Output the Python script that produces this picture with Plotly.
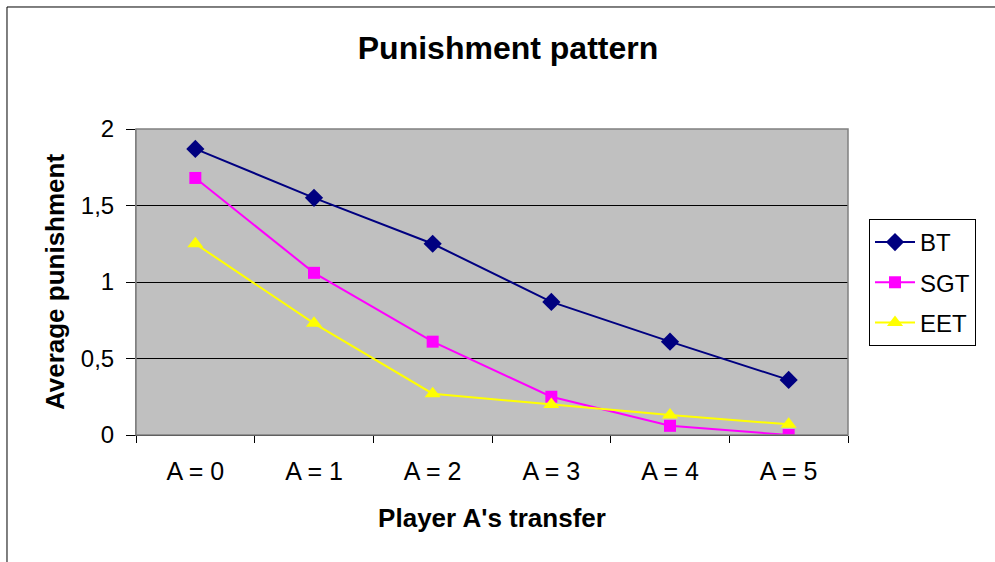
import plotly.graph_objects as go

# Categories and average punishment per treatment
transfers = ["A = 0", "A = 1", "A = 2", "A = 3", "A = 4", "A = 5"]
bt = [1.87, 1.55, 1.25, 0.87, 0.61, 0.36]
sgt = [1.68, 1.06, 0.61, 0.25, 0.06, 0.0]
eet = [1.25, 0.73, 0.27, 0.20, 0.13, 0.07]

FONT = "Liberation Sans, Arial, sans-serif"

fig = go.Figure()
fig.add_trace(go.Scatter(
    x=transfers, y=bt, name="BT", mode="lines+markers", legendgroup="bt",
    line=dict(color="#000080", width=2),
    marker=dict(symbol="diamond", size=14, color="#000080"),
))
fig.add_trace(go.Scatter(
    x=transfers, y=sgt, name="SGT", mode="lines+markers", legendgroup="sgt",
    line=dict(color="#FF00FF", width=2),
    marker=dict(symbol="square", size=12, color="#FF00FF"),
))
fig.add_trace(go.Scatter(
    x=transfers, y=eet, name="EET", mode="lines+markers", legendgroup="eet",
    line=dict(color="#FFFF00", width=2),
    marker=dict(symbol="triangle-up", size=14, color="#FFFF00"),
))

fig.update_layout(
    width=995, height=562,
    margin=dict(l=136, r=147, t=129, b=127),
    paper_bgcolor="white",
    plot_bgcolor="#C0C0C0",
    separators=",.",
    font=dict(family=FONT, color="black", size=24),
    title=dict(
        text="<b>Punishment pattern</b>",
        font=dict(size=32, family=FONT, color="black"),
        x=508 / 995, xref="container", xanchor="center",
        y=1 - 48 / 562, yref="container", yanchor="middle",
    ),
    showlegend=True,
    legend=dict(
        x=1.0295, xanchor="left", y=0.706, yanchor="top",
        bordercolor="black", borderwidth=1, bgcolor="white",
        font=dict(size=24, family=FONT, color="black"),
        tracegroupgap=6, itemwidth=40, entrywidth=140,
    ),
    xaxis=dict(
        type="category", range=[-0.5, 5.5],
        tickson="boundaries", ticks="outside", ticklen=7,
        tickcolor="black", showline=True, linecolor="black", linewidth=1,
        showgrid=False, zeroline=False,
        title=dict(text="<b>Player A's transfer</b>",
                   font=dict(size=26, family=FONT), standoff=24),
        tickfont=dict(size=25, family=FONT),
        ticklabelstandoff=14,
    ),
    yaxis=dict(
        range=[0, 2], tickvals=[0, 0.5, 1, 1.5, 2],
        ticks="outside", ticklen=9, tickcolor="black",
        showline=True, linecolor="#808080", linewidth=1,
        showgrid=True, gridcolor="black", gridwidth=1, zeroline=False,
        title=dict(text="<b>Average punishment</b>",
                   font=dict(size=26, family=FONT), standoff=8),
        tickfont=dict(size=24, family=FONT),
        ticklabelstandoff=7,
    ),
    shapes=[
        # outline of the plotting area
        dict(type="rect", xref="paper", yref="paper", x0=0, y0=0, x1=1, y1=1,
             line=dict(color="#808080", width=1.5), layer="above"),
        # chart frame
        dict(type="rect", xref="paper", yref="paper",
             x0=-0.1812, y0=-0.43, x1=1.22, y1=1.3987,
             line=dict(color="black", width=1), layer="above"),
    ],
)

fig.write_html("out.html")
